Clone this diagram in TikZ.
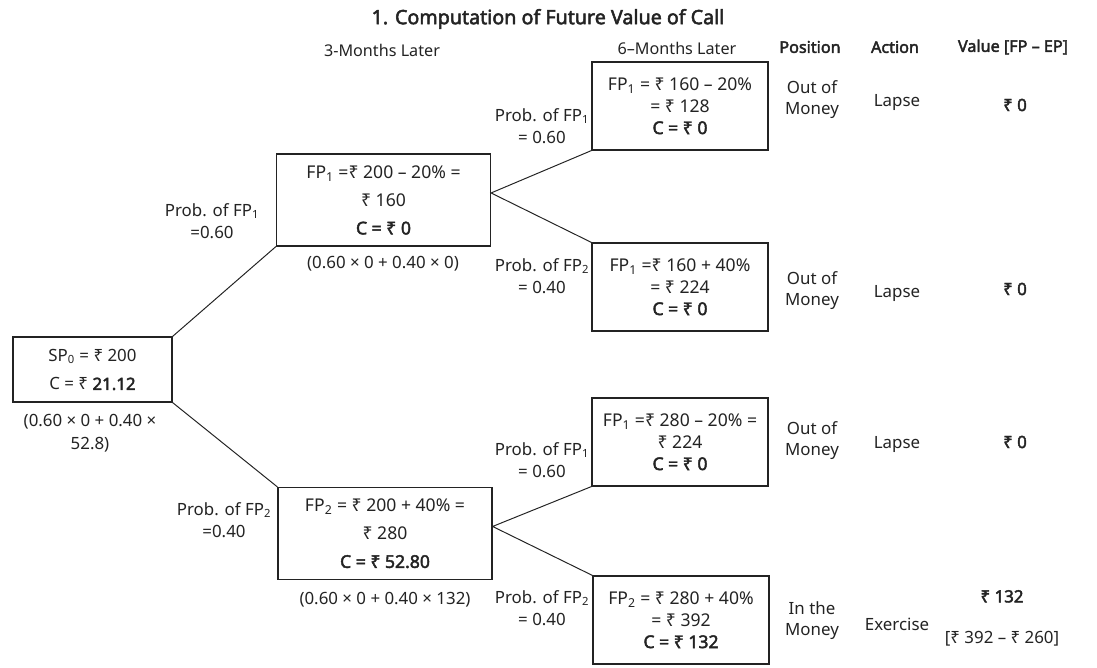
\documentclass[tikz,border=0pt]{standalone}
\usepackage{fontspec}
\setmainfont{Noto Sans}[AutoFakeBold=2.5]
\usetikzlibrary{positioning}
\definecolor{cInk}{RGB}{35,35,35}
\tikzset{
	treebox/.style={draw=cInk, line width=0.8pt, inner sep=0pt, align=center, text=cInk, font=\fontsize{12.5}{15.5}\selectfont},
	rootbox/.style={treebox, minimum width=3.975cm, minimum height=1.625cm, font=\fontsize{12}{20.5}\selectfont},
	midbox/.style={treebox, minimum width=5.35cm, minimum height=2.3cm, font=\fontsize{12.5}{20}\selectfont},
	leafbox/.style={treebox, minimum width=4.4cm, minimum height=2.2cm},
	lbl/.style={inner sep=0pt, align=center, text=cInk, font=\fontsize{12}{16}\selectfont},
	hdr/.style={inner sep=0pt, align=center, text=cInk, font=\bfseries\fontsize{11.5}{13}\selectfont},
	branch/.style={draw=cInk, line width=0.7pt},
}
\begin{document}
\begin{tikzpicture}[x=0.025cm, y=-0.025cm]
	\useasboundingbox (0,0) rectangle (1097,668);
	% headings
	\node[hdr, font=\bfseries\fontsize{14}{16}\selectfont] (title) at (548,19) {1. Computation of Future Value of Call};
	\node[lbl, font=\fontsize{11.5}{14}\selectfont] (three) at (382,50) {3-Months Later};
	\node[lbl, font=\fontsize{11.5}{14}\selectfont] (six) at (677,48) {6--Months Later};
	\node[hdr] (hpos) at (810,47) {Position};
	\node[hdr] (hact) at (895,47) {Action};
	\node[hdr] (hval) at (1013,47) {Value [FP -- EP]};
	% tree
	\node[rootbox] (sp0) at (92.5,369.5) {SP\textsubscript{0} = ₹ 200\\C = ₹ \textbf{21.12}};
	\node[lbl] (fsp0) at (90,433) {(0.60 × 0 + 0.40 ×\\52.8)};
	\node[midbox] (up) at (383.5,200) {FP\textsubscript{1} =₹ 200 -- 20\% =\\₹ 160\\\textbf{C = ₹ 0}};
	\node[lbl] (fup) at (383,264) {(0.60 × 0 + 0.40 × 0)};
	\node[midbox] (dn) at (385,533.5) {FP\textsubscript{2} = ₹ 200 + 40\% =\\₹ 280\\\textbf{C = ₹ 52.80}};
	\node[lbl] (fdn) at (385,600) {(0.60 × 0 + 0.40 × 132)};
	\node[leafbox] (uu) at (680,106) {FP\textsubscript{1} = ₹ 160 -- 20\%\\= ₹ 128\\\textbf{C = ₹ 0}};
	\node[leafbox] (ud) at (680,287) {FP\textsubscript{1} =₹ 160 + 40\%\\= ₹ 224\\\textbf{C = ₹ 0}};
	\node[leafbox] (du) at (680,442) {FP\textsubscript{1} =₹ 280 -- 20\% =\\₹ 224\\\textbf{C = ₹ 0}};
	\node[leafbox] (dd) at (681,620) {FP\textsubscript{2} = ₹ 280 + 40\%\\= ₹ 392\\\textbf{C = ₹ 132}};
	% probabilities
	\node[lbl] (pup) at (212,221) {Prob. of FP\textsubscript{1}\\=0.60};
	\node[lbl] (pdn) at (224,520) {Prob. of FP\textsubscript{2}\\=0.40};
	\node[lbl] (puu) at (542,126) {Prob. of FP\textsubscript{1}\\= 0.60};
	\node[lbl] (pud) at (542,276) {Prob. of FP\textsubscript{2}\\= 0.40};
	\node[lbl] (pdu) at (542,460) {Prob. of FP\textsubscript{1}\\= 0.60};
	\node[lbl] (pdd) at (542,608) {Prob. of FP\textsubscript{2}\\= 0.40};
	% branches
	\coordinate (jup) at ([yshift=5pt]up.east);
	\coordinate (jdn) at ([yshift=5pt]dn.east);
	\draw[branch] (sp0.north east) -- (up.south west);
	\draw[branch] (sp0.south east) -- (dn.north west);
	\draw[branch] (uu.south west) -- (jup) -- (ud.north west);
	\draw[branch] (du.south west) -- (jdn) -- (dd.north west);
	% outcome columns
	\foreach \row/\y/\pos/\act in {a/100/Out of/Lapse, b/291/Out of/Lapse, c/441/Out of/Lapse, d/621/In the/Exercise} {
		\node[lbl, font=\fontsize{12}{15}\selectfont] (pos\row) at (812,\y) {\pos\\Money};
		\node[lbl] (act\row) at (897,\y+3) {\act};
	}
	\node[hdr, font=\bfseries\fontsize{12}{14}\selectfont] (vala) at (1015,105) {₹ 0};
	\node[hdr, font=\bfseries\fontsize{12}{14}\selectfont] (valb) at (1015,289) {₹ 0};
	\node[hdr, font=\bfseries\fontsize{12}{14}\selectfont] (valc) at (1015,442) {₹ 0};
	\node[lbl, font=\fontsize{12}{29}\selectfont] (vald) at (1002,618) {\textbf{₹ 132}\\{}[₹ 392 -- ₹ 260]};
\end{tikzpicture}
\end{document}
